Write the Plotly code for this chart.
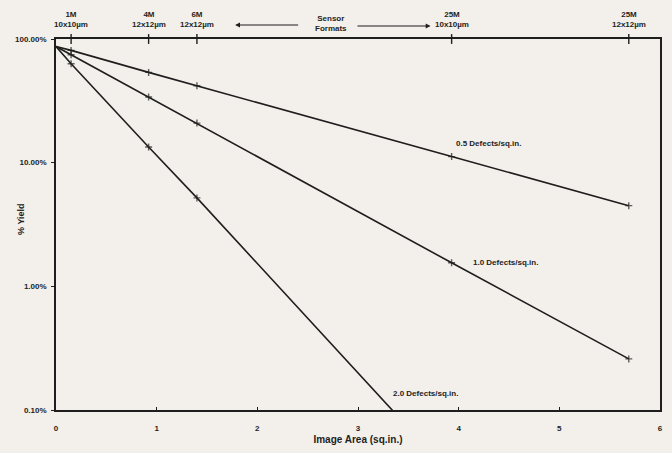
import math
import plotly.graph_objects as go

# Data
area = [0, 0.15, 0.92, 1.40, 3.93, 5.69]
yield_05 = [87, 80.9, 53.7, 41.9, 11.2, 4.49]
yield_10 = [87, 74.6, 34.0, 20.9, 1.55, 0.259]
yield_20 = [87, 63.0, 13.4, 5.19, 0.030, 0.00083]
series_names = ["0.5 Defects/sq.in.", "1.0 Defects/sq.in.", "2.0 Defects/sq.in."]

format_area = [0.15, 0.92, 1.40, 3.93, 5.69]
format_labels = ["1M<br>10x10µm", "4M<br>12x12µm", "6M<br>12x12µm", "25M<br>10x10µm", "25M<br>12x12µm"]

x_ticks = [0, 1, 2, 3, 4, 5, 6]
y_ticks = [0.1, 1, 10, 100]
y_tick_labels = ["0.10%", "1.00%", "10.00%", "100.00%"]

ink = "#1e1e1e"
paper = "#f3efea"
font_family = "Liberation Sans, Arial, sans-serif"

fig = go.Figure()
msize = [0, 5, 5, 5, 5, 5]
for ys, name in zip([yield_05, yield_10, yield_20], series_names):
    fig.add_trace(go.Scatter(
        x=area, y=ys, mode="lines+markers", name=name,
        line=dict(color=ink, width=1.6),
        marker=dict(symbol="cross-thin-open", size=msize, color=ink, line=dict(color=ink, width=1.4)),
        showlegend=False, hoverinfo="skip",
    ))

# Sensor formats on the 100% line
fig.add_trace(go.Scatter(
    x=format_area, y=[100] * len(format_area), mode="markers",
    marker=dict(symbol="line-ns-open", size=7, color=ink, line=dict(color=ink, width=1.4)),
    showlegend=False, cliponaxis=False, hoverinfo="skip",
))

for xa, lab in zip(format_area, format_labels):
    fig.add_annotation(x=xa, y=1.0, xref="x", yref="paper", yanchor="bottom", yshift=8,
                       text="<b>" + lab + "</b>", showarrow=False,
                       font=dict(size=8, color=ink, family=font_family))

fig.add_annotation(x=2.73, y=1.0, xref="x", yref="paper", yanchor="bottom", yshift=4,
                   text="<b>Sensor<br>Formats</b>", showarrow=False,
                   font=dict(size=8, color=ink, family=font_family))
# arrows
fig.add_annotation(x=1.78, y=1.0, xref="x", yref="paper", yshift=14,
                   ax=2.42, ay=0, axref="x", ayref="pixel",
                   text="", showarrow=True, arrowhead=2, arrowsize=0.8, arrowwidth=1.2, arrowcolor=ink)
fig.add_annotation(x=3.72, y=1.0, xref="x", yref="paper", yshift=13,
                   ax=2.98, ay=0, axref="x", ayref="pixel",
                   text="", showarrow=True, arrowhead=2, arrowsize=0.8, arrowwidth=1.2, arrowcolor=ink)

# Series labels (annotation y on a log axis is given in log10 units)
label_pos = [(3.95, 14.3), (4.12, 1.55), (3.33, 0.136)]
for (lx, ly), name in zip(label_pos, series_names):
    fig.add_annotation(x=lx, y=math.log10(ly), xref="x", yref="y", xanchor="left",
                       text="<b>" + name + "</b>", showarrow=False,
                       font=dict(size=8, color=ink, family=font_family))

# Y-axis title as rotated text
fig.add_annotation(x=0, y=0.515, xref="paper", yref="paper", xshift=-42,
                   text="<b>% Yield</b>", textangle=-90, showarrow=False,
                   font=dict(size=9, color=ink, family=font_family))

fig.update_layout(
    width=672, height=453,
    margin=dict(l=56, r=12, t=39, b=43),
    paper_bgcolor=paper, plot_bgcolor=paper,
    font=dict(family=font_family, color=ink, size=8),
    hovermode=False,
)
fig.update_xaxes(
    range=[0, 6], tickvals=x_ticks, ticktext=["<b>%d</b>" % t for t in x_ticks],
    showgrid=False, zeroline=False, showline=True, linecolor=ink, linewidth=1.6,
    mirror=True, ticks="inside", ticklen=3, tickcolor=ink, ticklabelstandoff=10,
    title=dict(text="<b>Image Area (sq.in.)</b>", font=dict(size=10, color=ink), standoff=4),
    tickfont=dict(size=8), automargin=False,
)
fig.update_yaxes(
    type="log", range=[-1, 2], tickvals=y_ticks, ticktext=["<b>%s</b>" % t for t in y_tick_labels],
    showgrid=False, zeroline=False, showline=True, linecolor=ink, linewidth=1.6,
    mirror=True, ticks="outside", ticklen=3, tickcolor=ink, ticklabelstandoff=3,
    tickfont=dict(size=8), automargin=False,
)

fig.write_html("out.html", config={"displayModeBar": False},
               post_script="document.body.style.margin='0';document.body.style.overflow='hidden';")
